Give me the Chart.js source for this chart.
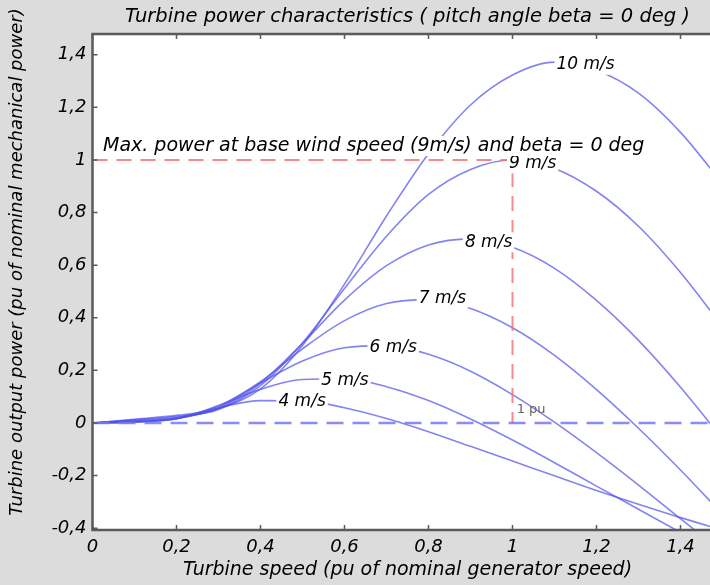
<!DOCTYPE html>
<html lang="en">
<head>
    <meta charset="UTF-8">
    <title>Turbine power characteristics</title>
    <script src="https://cdn.jsdelivr.net/npm/chart.js@4"></script>
    <style>
        html, body { margin: 0; padding: 0; overflow: hidden; background: #dcdcdc; }
        canvas { display: block; }
    </style>
</head>
<body>
    <canvas id="turbineChart" width="740" height="585"></canvas>

    <script>
        // turbine speed (pu) and output power (pu) for each wind speed
        const speedPu = [0, 0.1, 0.2, 0.3, 0.4, 0.5, 0.6, 0.7, 0.8, 0.9, 1.0, 1.1, 1.2, 1.3, 1.4, 1.5];
        const windLabels = ['4 m/s', '5 m/s', '6 m/s', '7 m/s', '8 m/s', '9 m/s', '10 m/s'];
        const power4 = [0, 0.002, 0.019, 0.058, 0.085, 0.084, 0.058, 0.017, -0.033, -0.089, -0.145, -0.201, -0.257, -0.309, -0.360, -0.407];
        const power5 = [0, 0.004, 0.016, 0.066, 0.128, 0.165, 0.168, 0.138, 0.085, 0.015, -0.065, -0.151, -0.240, -0.328, -0.416, -0.501];
        const power6 = [0, 0.005, 0.015, 0.064, 0.152, 0.236, 0.286, 0.294, 0.261, 0.197, 0.108, 0.003, -0.113, -0.236, -0.364, -0.491];
        const power7 = [0, 0.007, 0.017, 0.058, 0.157, 0.282, 0.389, 0.454, 0.469, 0.435, 0.362, 0.257, 0.127, -0.020, -0.179, -0.347];
        const power8 = [0, 0.009, 0.020, 0.054, 0.151, 0.303, 0.467, 0.598, 0.677, 0.700, 0.668, 0.588, 0.466, 0.314, 0.136, -0.060];
        const power9 = [0, 0.012, 0.024, 0.051, 0.142, 0.304, 0.511, 0.710, 0.869, 0.964, 1.000, 0.968, 0.881, 0.748, 0.572, 0.366];
        const power10 = [0, 0.014, 0.029, 0.055, 0.130, 0.295, 0.528, 0.787, 1.024, 1.209, 1.323, 1.372, 1.341, 1.254, 1.105, 0.910];
        const powerCurves = [power4, power5, power6, power7, power8, power9, power10];

        // where each wind speed label sits on its curve (speed, power)
        const labelSpeed = [0.499, 0.601, 0.716, 0.833, 0.943, 1.048, 1.174];
        const labelPower = [0.080, 0.163, 0.288, 0.474, 0.687, 0.987, 1.362];

        // max power marker at base wind speed, and the zero power line
        const maxPowerX = [0, 1, 1];
        const maxPowerY = [1, 1, 0];
        const zeroLineX = [0, 1.5];
        const zeroLineY = [0, 0];

        const xTicks = [0, 0.2, 0.4, 0.6, 0.8, 1, 1.2, 1.4];
        const yTicks = [-0.4, -0.2, 0, 0.2, 0.4, 0.6, 0.8, 1, 1.2, 1.4];

        const FONT = "'DejaVu Sans', Verdana, sans-serif";
        const fmt = v => String(Math.round(v * 10) / 10).replace('.', ',');
        const toPoints = (xs, ys) => xs.map((x, i) => ({ x: x, y: ys[i] }));

        const datasets = [
            {
                data: toPoints(zeroLineX, zeroLineY),
                borderColor: 'rgba(120,120,240,0.85)',
                borderWidth: 2.5,
                borderDash: [17, 9]
            },
            {
                data: toPoints(maxPowerX, maxPowerY),
                borderColor: 'rgba(240,120,120,0.85)',
                borderWidth: 2,
                borderDash: [15, 9]
            }
        ];
        powerCurves.forEach((curve, i) => {
            datasets.push({
                label: windLabels[i],
                data: toPoints(speedPu, curve),
                borderColor: 'rgba(80,80,235,0.7)',
                borderWidth: 1.6,
                cubicInterpolationMode: 'monotone'
            });
        });

        // grey figure, white axes box with border and inward tick marks
        const axesBox = {
            id: 'axesBox',
            beforeDraw(chart) {
                const { ctx, chartArea: a } = chart;
                ctx.save();
                ctx.fillStyle = '#dcdcdc';
                ctx.fillRect(0, 0, chart.width, chart.height);
                ctx.fillStyle = '#ffffff';
                ctx.fillRect(a.left, a.top, a.right - a.left, a.bottom - a.top);
                ctx.restore();
            },
            afterDraw(chart) {
                const { ctx, chartArea: a, scales } = chart;
                ctx.save();
                ctx.strokeStyle = '#5a5a5a';
                ctx.lineWidth = 2.5;
                ctx.beginPath();
                ctx.moveTo(a.right, a.top);
                ctx.lineTo(a.left, a.top);
                ctx.lineTo(a.left, a.bottom);
                ctx.lineTo(a.right, a.bottom);
                ctx.stroke();
                ctx.lineWidth = 1.5;
                ctx.beginPath();
                xTicks.forEach(v => {
                    const px = scales.x.getPixelForValue(v);
                    ctx.moveTo(px, a.bottom); ctx.lineTo(px, a.bottom - 5);
                    ctx.moveTo(px, a.top); ctx.lineTo(px, a.top + 5);
                });
                yTicks.forEach(v => {
                    const py = scales.y.getPixelForValue(v);
                    ctx.moveTo(a.left, py); ctx.lineTo(a.left + 5, py);
                });
                ctx.stroke();
                ctx.restore();
            }
        };

        // text on the curves, each on a white patch that breaks the line
        const curveText = {
            id: 'curveText',
            afterDatasetsDraw(chart) {
                const { ctx, scales } = chart;
                const x = scales.x, y = scales.y;
                const put = (text, px, py, font, align, color) => {
                    ctx.font = font;
                    const w = ctx.measureText(text).width;
                    const left = align === 'left' ? px : px - w / 2;
                    ctx.fillStyle = '#ffffff';
                    ctx.fillRect(left - 2, py - 10, w + 4, 20);
                    ctx.fillStyle = color;
                    ctx.textAlign = 'left';
                    ctx.textBaseline = 'middle';
                    ctx.fillText(text, left, py);
                };
                ctx.save();
                windLabels.forEach((t, i) => {
                    put(t, x.getPixelForValue(labelSpeed[i]), y.getPixelForValue(labelPower[i]),
                        'oblique 17px ' + FONT, 'center', '#000');
                });
                put('Max. power at base wind speed (9m/s) and beta = 0 deg',
                    x.getPixelForValue(0.025), y.getPixelForValue(1.053),
                    'oblique 19px ' + FONT, 'left', '#000');
                ctx.font = '13px ' + FONT;
                ctx.fillStyle = '#666';
                ctx.textAlign = 'left';
                ctx.textBaseline = 'middle';
                ctx.fillText('1 pu', x.getPixelForValue(1.01), y.getPixelForValue(0.05));
                ctx.restore();
            }
        };

        const ctx = document.getElementById('turbineChart').getContext('2d');
        const turbineChart = new Chart(ctx, {
            type: 'line',
            data: { datasets: datasets },
            options: {
                responsive: false,
                animation: false,
                devicePixelRatio: 1,
                layout: { padding: { right: 17.5 } },
                elements: { point: { radius: 0 }, line: { fill: false } },
                plugins: {
                    legend: { display: false },
                    tooltip: { enabled: false },
                    title: {
                        display: true,
                        fullSize: false,
                        text: 'Turbine power characteristics ( pitch angle beta = 0 deg )',
                        color: '#000',
                        font: { family: FONT, size: 19.5, style: 'oblique', weight: 'normal' },
                        padding: { top: 5.3, bottom: 5.3 }
                    }
                },
                scales: {
                    x: {
                        type: 'linear',
                        min: 0,
                        max: 1.5,
                        afterFit: s => { s.height = 55; },
                        grid: { display: false, drawTicks: false },
                        border: { display: false },
                        ticks: {
                            stepSize: 0.2,
                            includeBounds: false,
                            maxRotation: 0,
                            autoSkip: false,
                            padding: 7,
                            color: '#000',
                            font: { family: FONT, size: 18, style: 'oblique' },
                            callback: v => fmt(v)
                        },
                        title: {
                            display: true,
                            text: 'Turbine speed (pu of nominal generator speed)',
                            color: '#000',
                            font: { family: FONT, size: 19, style: 'oblique' },
                            padding: { top: 0, bottom: 3.6 }
                        }
                    },
                    y: {
                        type: 'linear',
                        min: -0.407,
                        max: 1.479,
                        afterFit: s => { s.width = 92.5; },
                        grid: { display: false, drawTicks: false },
                        border: { display: false },
                        ticks: {
                            stepSize: 0.2,
                            includeBounds: false,
                            padding: 6,
                            color: '#000',
                            font: { family: FONT, size: 18, style: 'oblique' },
                            callback: v => fmt(v)
                        },
                        title: {
                            display: true,
                            text: '       Turbine output power (pu of nominal mechanical power)',
                            color: '#000',
                            font: { family: FONT, size: 18, style: 'oblique' },
                            padding: { top: 6.2, bottom: 0 }
                        }
                    }
                }
            },
            plugins: [axesBox, curveText]
        });
    </script>
</body>
</html>
